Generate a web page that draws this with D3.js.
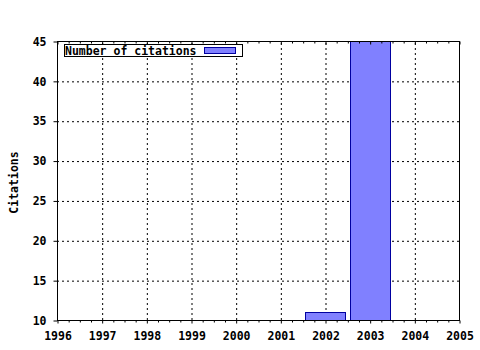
<!DOCTYPE html>
<html>
<head>
<meta charset="utf-8">
<script src="https://cdn.jsdelivr.net/npm/d3@7"></script>
<style>
  html, body { margin: 0; padding: 0; background: #fff; }
  svg { display: block; }
  text { font-family: "DejaVu Sans Mono", "Liberation Mono", monospace; font-weight: bold; font-size: 11.5px; fill: #000; }
</style>
</head>
<body>
<div id="chart"></div>
<script>
// ---- data ----
const years = [2002, 2003];
const citations = [11, 45];
const xTickYears = [1996, 1997, 1998, 1999, 2000, 2001, 2002, 2003, 2004, 2005];
const yTickValues = [10, 15, 20, 25, 30, 35, 40, 45];
const seriesName = "Number of citations";
const yTitle = "Citations";

// ---- layout ----
const W = 480, H = 350;
const pL = 57, pR = 459, pT = 41, pB = 320;

const svg = d3.select("#chart").append("svg").attr("width", W).attr("height", H);

const x = d3.scaleLinear().domain([1996, 2005]).range([pL, pR]);
const y = d3.scaleLinear().domain([10, 45]).range([pB, pT]);

const minorX = d3.range(1996, 2005.001, 0.25).filter(v => Math.abs(v - Math.round(v)) > 1e-6);

// grid
const gridX = svg.append("g").attr("transform", `translate(0.5,${pB})`)
  .call(d3.axisBottom(x).tickValues(xTickYears.slice(1, -1)).tickSize(-(pB - pT)).tickFormat(""));
gridX.select(".domain").remove();
gridX.selectAll("line").attr("stroke", "#000").attr("stroke-dasharray", "2,3");

const gridY = svg.append("g").attr("transform", `translate(${pL},0.5)`)
  .call(d3.axisLeft(y).tickValues(yTickValues.slice(1, -1)).tickSize(-(pR - pL)).tickFormat(""));
gridY.select(".domain").remove();
gridY.selectAll("line").attr("stroke", "#000").attr("stroke-dasharray", "2,3");

// bars
const barW = 0.9;
svg.append("g").selectAll("rect").data(years.map((yr, i) => ({ yr, v: citations[i] })))
  .join("rect")
  .attr("x", d => Math.round(x(d.yr - barW / 2)) + 0.5)
  .attr("width", d => Math.round(x(d.yr + barW / 2) - x(d.yr - barW / 2)))
  .attr("y", d => Math.round(y(d.v)) + 0.5)
  .attr("height", d => Math.round(y(10) - y(d.v)))
  .attr("fill", "#8080ff")
  .attr("stroke", "#0000a0")
  .attr("stroke-width", 1);

// frame
svg.append("rect")
  .attr("x", pL + 0.5).attr("y", pT + 0.5)
  .attr("width", pR - pL).attr("height", pB - pT)
  .attr("fill", "none").attr("stroke", "#000").attr("stroke-width", 1);

// bottom axis major ticks + labels
const xAxis = svg.append("g").attr("transform", `translate(0.5,${pB + 0.5})`)
  .call(d3.axisBottom(x).tickValues(xTickYears).tickSizeInner(3).tickSizeOuter(0).tickPadding(8).tickFormat(d3.format("d")));
xAxis.select(".domain").remove();

// bottom minor ticks
const xMinor = svg.append("g").attr("transform", `translate(0.5,${pB + 0.5})`)
  .call(d3.axisBottom(x).tickValues(minorX).tickSizeInner(2).tickSizeOuter(0).tickFormat(""));
xMinor.select(".domain").remove();

// top ticks (pointing inward)
const topMajor = svg.append("g").attr("transform", `translate(0.5,${pT + 0.5})`)
  .call(d3.axisBottom(x).tickValues(xTickYears).tickSizeInner(3).tickSizeOuter(0).tickFormat(""));
topMajor.select(".domain").remove();
const topMinor = svg.append("g").attr("transform", `translate(0.5,${pT + 0.5})`)
  .call(d3.axisBottom(x).tickValues(minorX).tickSizeInner(2).tickSizeOuter(0).tickFormat(""));
topMinor.select(".domain").remove();

// left axis
const yAxis = svg.append("g").attr("transform", `translate(${pL + 0.5},0.5)`)
  .call(d3.axisLeft(y).tickValues(yTickValues).tickSizeInner(4).tickSizeOuter(0).tickPadding(7).tickFormat(d3.format("d")));
yAxis.select(".domain").remove();

svg.selectAll("g").attr("font-family", null).attr("font-size", null);

// y title
svg.append("text")
  .attr("transform", `translate(18,${(pT + pB) / 2 + 2}) rotate(-90)`)
  .attr("text-anchor", "middle")
  .text(yTitle);

// legend
const lg = svg.append("g");
lg.append("rect").attr("x", 64.5).attr("y", 44.5).attr("width", 178).attr("height", 12)
  .attr("fill", "#fff").attr("stroke", "#000");
lg.append("text").attr("x", 65).attr("y", 54.5).text(seriesName);
lg.append("rect").attr("x", 204.5).attr("y", 47.5).attr("width", 31).attr("height", 6)
  .attr("fill", "#8080ff").attr("stroke", "#0000a0");
</script>
</body>
</html>
